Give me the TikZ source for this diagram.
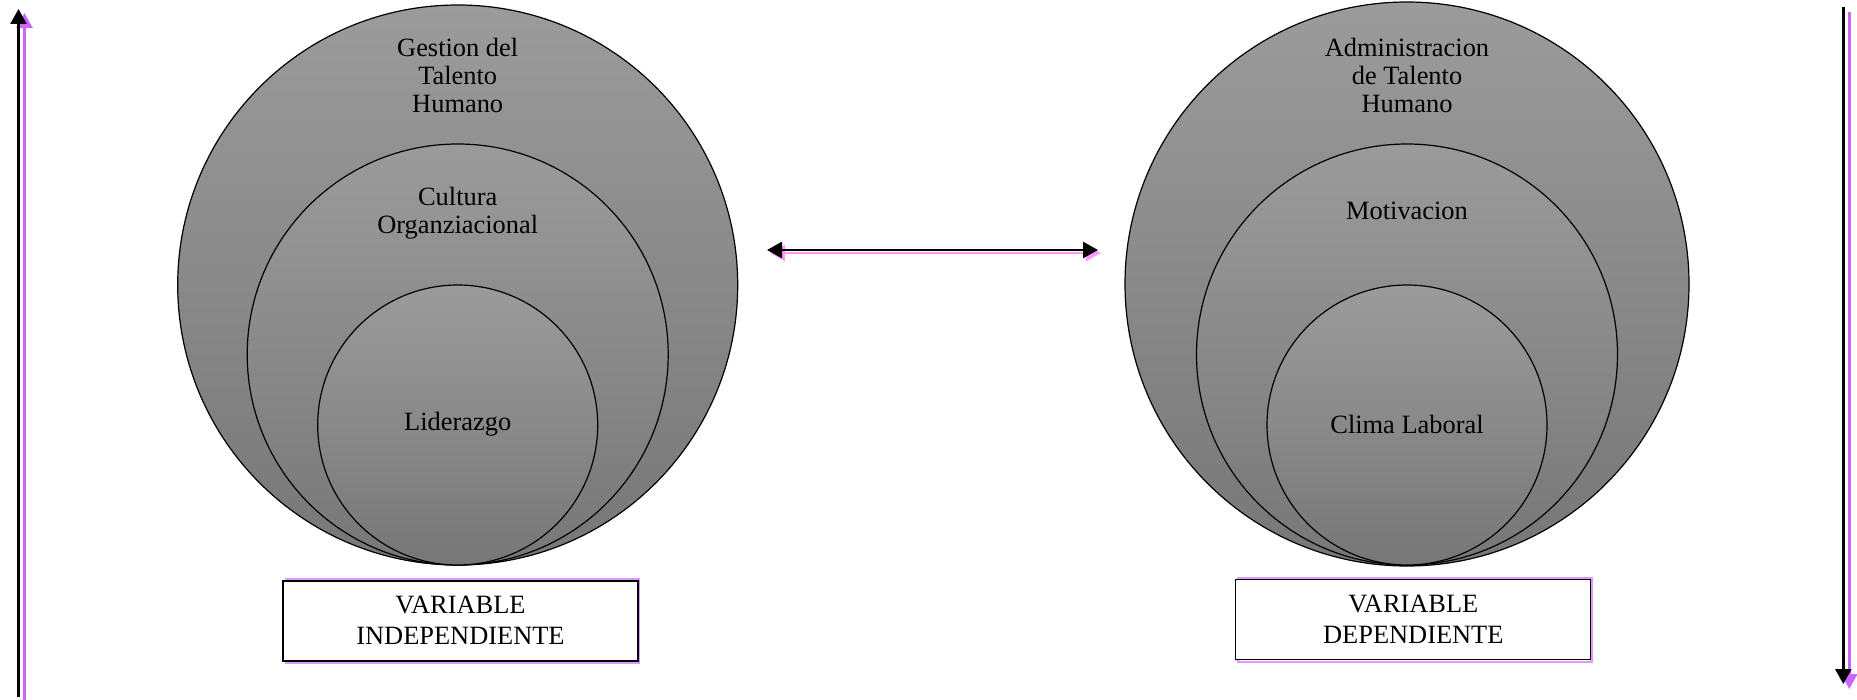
\documentclass[tikz,border=0pt]{standalone}
\usepackage{fontspec}
\setmainfont{Liberation Serif}
\usetikzlibrary{arrows.meta}
\definecolor{gtop}{HTML}{9B9B9B}
\definecolor{gbot}{HTML}{777777}
\definecolor{shpurple}{HTML}{CC66FF}
\definecolor{shpink}{HTML}{FF99FF}
\definecolor{shviolet}{HTML}{DD99FF}
\begin{document}
\begin{tikzpicture}[x=0.5pt,y=-0.5pt,
  ring/.style={circle, draw=black, line width=0.6pt, inner sep=0pt, top color=gtop, bottom color=gbot},
  lbl/.style={align=center, font=\fontsize{13.2pt}{13.8pt}\selectfont, inner sep=0pt},
  boxlbl/.style={align=center, font=\fontsize{13.2pt}{15.4pt}\selectfont, inner sep=0pt},
  varbox/.style={draw=black, line width=0.6pt, fill=white, minimum width=177.5pt, minimum height=40pt, inner sep=0pt},
  boxshadow/.style={draw=shviolet, line width=0.8pt, minimum width=177pt, minimum height=42pt, inner sep=0pt},
  bigarrow/.style={line width=1.3pt, -{Triangle[length=7.5pt,width=8pt]}},
  dblarrow/.style={line width=1.3pt, {Triangle[length=7.5pt,width=8pt]}-{Triangle[length=7.5pt,width=8pt]}}
]
\useasboundingbox (0,0) rectangle (1857,700);

% left circles
\node[ring, minimum size=280pt] (lout) at (457.7,285) {};
\node[ring, minimum size=210.5pt] (lmid) at (457.7,354.5) {};
\node[ring, minimum size=140pt] (lin) at (457.7,425) {};
\node[lbl] (lt1) at (457.7,75.5) {Gestion del\\Talento\\Humano};
\node[lbl] (lt2) at (457.7,213) {Cultura\\Organziacional};
\node[lbl] (lt3) at (457.7,424) {Liderazgo};

% right circles
\node[ring, minimum size=282pt] (rout) at (1407,284) {};
\node[ring, minimum size=210.5pt] (rmid) at (1407,354.5) {};
\node[ring, minimum size=140pt] (rin) at (1407,425) {};
\node[lbl] (rt1) at (1407,75.5) {Administracion\\de Talento\\Humano};
\node[lbl] (rt2) at (1407,211) {Motivacion};
\node[lbl] (rt3) at (1407,424) {Clima Laboral};

% boxes
\node[boxshadow] (lbs) at (462.5,621) {};
\node[varbox] (lbox) at (460.5,621) {};
\node[boxlbl] (lbt) at (460.5,620.5) {VARIABLE\\INDEPENDIENTE};
\node[boxshadow] (rbs) at (1415,620) {};
\node[varbox] (rbox) at (1413.3,619.5) {};
\node[boxlbl] (rbt) at (1413.3,619.5) {VARIABLE\\DEPENDIENTE};

% double arrow
\coordinate (da1) at (767,250);
\coordinate (da2) at (1098,250);
\coordinate (ds1) at (770,253);
\coordinate (ds2) at (1101,253);
\draw[dblarrow, draw=shpink, fill=shpink] (ds1) -- (ds2);
\draw[dblarrow] (da1) -- (da2);

% left vertical arrow
\coordinate (la0) at (18.5,697);
\coordinate (la1) at (18.5,9);
\coordinate (ls0) at (24.5,702);
\coordinate (ls1) at (24.5,13);
\draw[bigarrow, draw=shpurple, fill=shpurple] (ls0) -- (ls1);
\draw[bigarrow] (la0) -- (la1);

% right vertical arrow
\coordinate (ra0) at (1843.3,7);
\coordinate (ra1) at (1843.3,684);
\coordinate (rs0) at (1849.3,12);
\coordinate (rs1) at (1849.3,689);
\draw[bigarrow, draw=shpurple, fill=shpurple] (rs0) -- (rs1);
\draw[bigarrow] (ra0) -- (ra1);
\end{tikzpicture}
\end{document}
